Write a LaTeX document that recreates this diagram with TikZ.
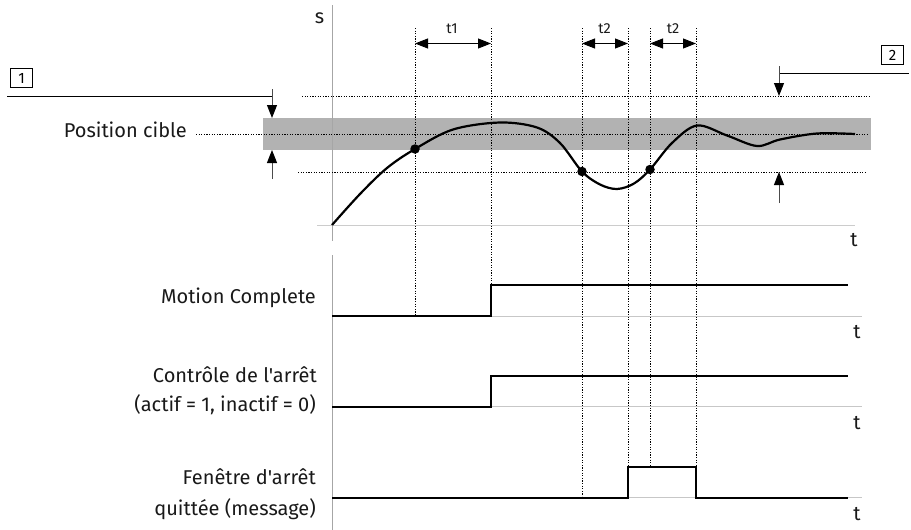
\documentclass[tikz,border=0pt]{standalone}
\usepackage{fontspec}
\setmainfont{Fira Sans}[Ligatures=TeXOff]
\usetikzlibrary{arrows.meta}
\begin{document}
\begin{tikzpicture}[x=1pt,y=-1pt,
  lbl/.style={font=\fontsize{20}{24}\selectfont, inner sep=0pt, text=black!90},
  tlbl/.style={font=\fontsize{14.5}{17}\selectfont, inner sep=0pt, text=black!90},
  boxlbl/.style={font=\fontsize{15}{18}\selectfont, draw=black, line width=0.8pt, minimum width=22pt, minimum height=19pt, inner sep=0pt},
  axisline/.style={draw=black!35, line width=0.9pt},
  gridline/.style={draw=black!22, line width=1pt},
  dotline/.style={draw=black, line width=0.75pt, dash pattern=on 1.2pt off 1.4pt},
  signal/.style={draw=black, line width=2pt},
  curve/.style={draw=black, line width=2.2pt, line join=round},
  dimarrow/.style={draw=black, line width=1pt, {Triangle[length=13pt,width=10pt]}-{Triangle[length=13pt,width=10pt]}},
  pointer/.style={draw=black!70, line width=1pt, -{Triangle[length=13pt,width=10pt,fill=black,color=black]}},
  callout/.style={draw=black, line width=1pt},
  dot/.style={circle, fill=black, inner sep=0pt, minimum size=9.5pt},
]
\useasboundingbox (0,0) rectangle (911,530);

% stop window band
\fill[black!30] (263,118) rectangle (871,150);

% axes
\draw[axisline] (332.5,5) -- (332.5,241);
\draw[axisline] (332.5,255) -- (332.5,530);
\draw[gridline, draw=black!20] (317,225) -- (855,225);
\draw[gridline] (332,316) -- (862,316);
\draw[gridline] (332,406.5) -- (862,406.5);
\draw[gridline] (332,497.5) -- (862,497.5);

% horizontal dotted lines
\draw[dotline] (302,96) -- (870,96);
\draw[dotline] (298,172) -- (866,172);
\draw[dotline] (196,134) -- (869,134);

% vertical dotted lines
\coordinate (v1) at (415,28);
\coordinate (v2) at (491,28);
\coordinate (v3) at (582,28);
\coordinate (v4) at (628,28);
\coordinate (v5) at (650,28);
\coordinate (v6) at (696,28);
\draw[dotline] (v1) -- (415,315);
\draw[dotline] (v2) -- (491,285);
\draw[dotline] (v3) -- (582,496);
\draw[dotline] (v4) -- (628,467);
\draw[dotline] (v5) -- (650,467);
\draw[dotline] (v6) -- (696,467);

% time interval arrows
\coordinate (a1) at (415,43.5);
\coordinate (a2) at (491,43.5);
\coordinate (a3) at (582,43.5);
\coordinate (a4) at (628,43.5);
\coordinate (a5) at (650,43.5);
\coordinate (a6) at (696,43.5);
\draw[dimarrow] (a1) -- (a2);
\draw[dimarrow] (a3) -- (a4);
\draw[dimarrow] (a5) -- (a6);
\node[tlbl, anchor=base] (t1) at (452,33) {t1};
\node[tlbl, anchor=base] (t2a) at (604.5,33) {t2};
\node[tlbl, anchor=base] (t2b) at (673,33) {t2};

% position curve
\draw[curve] plot[smooth, tension=0.55] coordinates {
  (332,225) (360,194) (387,168) (415,149) (453,129.5) (500,122.5) (537,127.5)
  (560,143) (582,171.5) (600,184.5) (617,189) (634,183.5) (650,169.5)
  (672,143) (697,125.5) (727,135.5) (757,146) (780,139.5) (817,133.5) (855,134)};
\node[dot] (d1) at (415,149) {};
\node[dot] (d2) at (582,171.5) {};
\node[dot] (d3) at (650,169.5) {};

% callout 1
\node[boxlbl] (b1) at (21.5,78) {1};
\coordinate (c1s) at (7,96);
\coordinate (c1e) at (272,96);
\draw[callout] (c1s) -- (c1e);
\coordinate (p1top) at (272,89);
\coordinate (p1tip) at (272,118);
\coordinate (p1bot) at (272,179);
\coordinate (p1tip2) at (272,150);
\draw[pointer] (p1top) -- (p1tip);
\draw[pointer] (p1bot) -- (p1tip2);

% callout 2
\node[boxlbl] (b2) at (892.5,55) {2};
\coordinate (c2s) at (779,73);
\coordinate (c2e) at (909,73);
\draw[callout] (c2s) -- (c2e);
\coordinate (p2top) at (779,66);
\coordinate (p2tip) at (779,96);
\coordinate (p2bot) at (779,203);
\coordinate (p2tip2) at (779,172);
\draw[pointer] (p2top) -- (p2tip);
\draw[pointer] (p2bot) -- (p2tip2);

% labels
\node[lbl, anchor=base] (s) at (319.5,23.5) {s};
\node[lbl, anchor=base] (tA) at (854,246.5) {t};
\node[lbl, anchor=base] (tB) at (857,338) {t};
\node[lbl, anchor=base] (tC) at (857,429) {t};
\node[lbl, anchor=base] (tD) at (857,520) {t};
\node[lbl, anchor=base east] (pc) at (187,137) {Position cible};
\node[lbl, anchor=base east] (mc) at (316,303) {Motion Complete};
\node[lbl, anchor=base east] (ca) at (317,382) {Contrôle de l'arrêt};
\node[lbl, anchor=base east] (cb) at (316,411) {(actif = 1, inactif = 0)};
\node[lbl, anchor=base east] (fa) at (316,484) {Fenêtre d'arrêt};
\node[lbl, anchor=base east] (fb) at (316,515.5) {quittée (message)};

% signals
\draw[signal] (332,315.5) -- (491,315.5) -- (491,285) -- (848,285);
\draw[signal] (332,406.5) -- (491,406.5) -- (491,376) -- (848,376);
\draw[signal] (332,497.5) -- (628,497.5) -- (628,467) -- (696,467) -- (696,497.5) -- (848,497.5);
\end{tikzpicture}
\end{document}
